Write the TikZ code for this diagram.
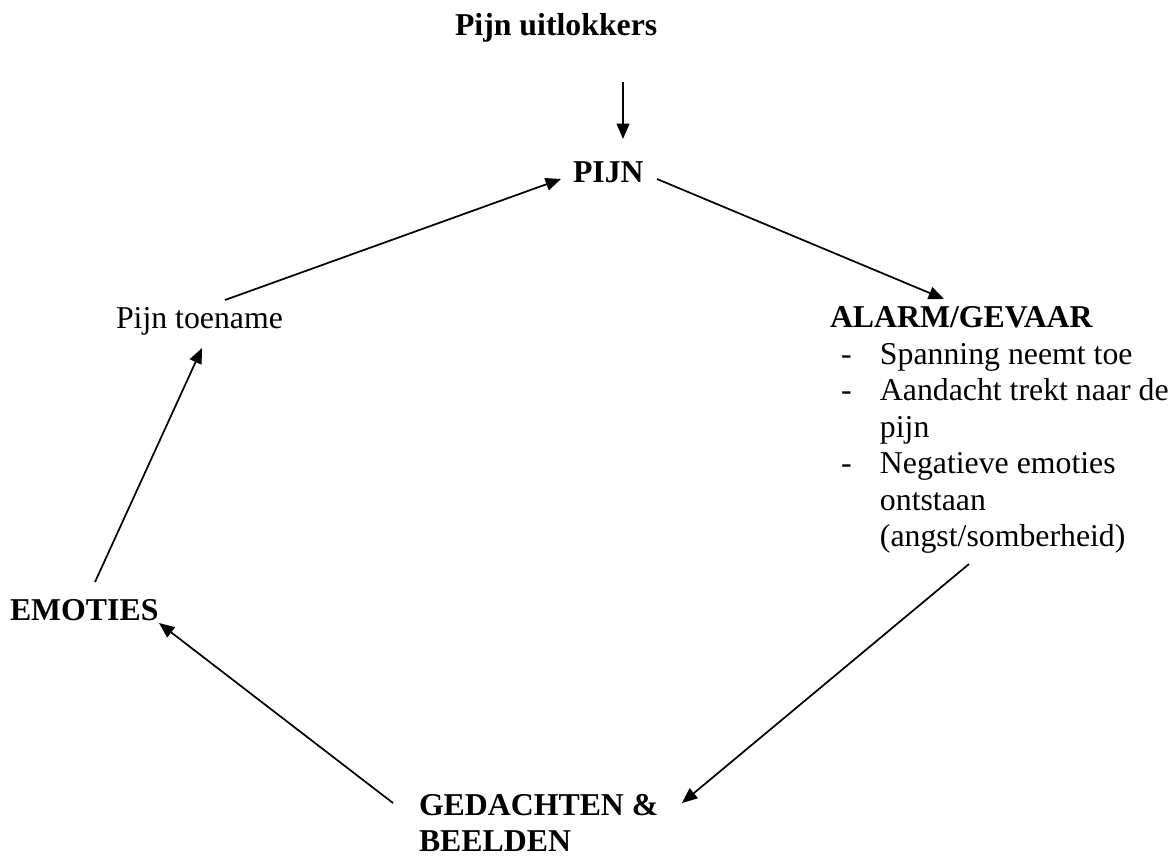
\documentclass[tikz,border=0pt]{standalone}
\usepackage{fontspec}
\setmainfont{Liberation Serif}
\usetikzlibrary{arrows.meta}
\begin{document}
\begin{tikzpicture}[x=0.3774pt,y=-0.3774pt,
  lbl/.style={anchor=base west,inner sep=0pt,outer sep=0pt,font=\fontsize{12}{13.8}\selectfont},
  blbl/.style={lbl,font=\fontsize{12}{13.8}\selectfont\bfseries},
  arr/.style={line width=0.65pt,-{Triangle[length=5.8pt,width=4.8pt]}}]
\useasboundingbox (0,0) rectangle (1175,855);
\node[blbl] (trig) at (455,35) {Pijn uitlokkers};
\node[blbl] (pijn) at (573,182) {PIJN};
\node[blbl] (alarm) at (830,327) {ALARM/GEVAAR};
\node[lbl] (list) at (841,364) {\begin{tabular}[t]{@{}p{14.7pt}@{}l@{}}
-&Spanning neemt toe\\
-&Aandacht trekt naar de\\
&pijn\\
-&Negatieve emoties\\
&ontstaan\\
&(angst/somberheid)
\end{tabular}};
\node[blbl] (ged) at (419,815) {\begin{tabular}[t]{@{}l@{}}GEDACHTEN \&\\BEELDEN\end{tabular}};
\node[blbl] (emo) at (10,620) {EMOTIES};
\node[lbl] (toe) at (116,328) {Pijn toename};
\draw[arr] ([shift={(168,47)}]trig.base west) -- ([shift={(50,-43)}]pijn.base west);
\draw[arr] ([shift={(84,-3)}]pijn.base west) -- ([shift={(114,-28)}]alarm.base west);
\draw[arr] ([shift={(128,200)}]list.base west) -- ([shift={(263,-12)}]ged.base west);
\draw[arr] ([shift={(-26,-12)}]ged.base west) -- ([shift={(149,3)}]emo.base west);
\draw[arr] ([shift={(85,-38)}]emo.base west) -- ([shift={(86,20)}]toe.base west);
\draw[arr] ([shift={(109,-28)}]toe.base west) -- ([shift={(-12,-3)}]pijn.base west);
\end{tikzpicture}
\end{document}
